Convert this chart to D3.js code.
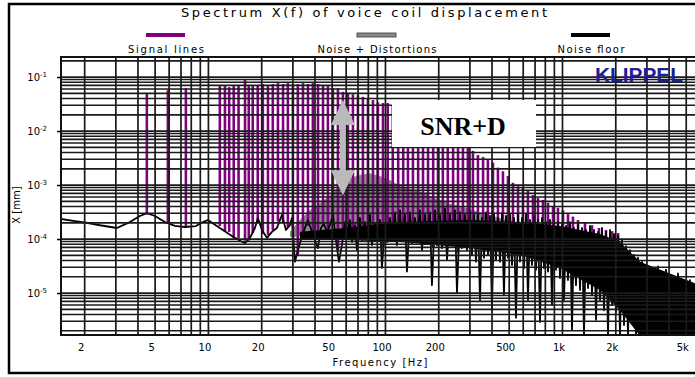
<!DOCTYPE html>
<html>
<head>
<meta charset="utf-8">
<script src="https://cdn.jsdelivr.net/npm/d3@7"></script>
<style>
  html, body { margin: 0; padding: 0; background: #fff; }
  svg { display: block; font-family: "DejaVu Sans", sans-serif; }
</style>
</head>
<body>
<div id="chart"></div>
<script>
// values: [frequency Hz, displacement mm]
const signalLines = [
  [4.49, 0.051], [5.9, 0.057], [7.46, 0.062],
  [11.6, 0.068], [12.4, 0.068], [13.1, 0.065], [13.9, 0.068], [14.8, 0.068], [16.1, 0.088],
  [16.9, 0.068], [17.8, 0.068], [19.0, 0.071], [20.3, 0.074], [21.7, 0.071], [23.1, 0.074],
  [24.7, 0.077], [26.4, 0.074], [28.1, 0.077], [30.0, 0.074], [32.0, 0.074], [34.2, 0.077],
  [36.5, 0.074], [38.9, 0.077], [41.6, 0.074], [44.4, 0.071], [47.3, 0.068], [50.5, 0.062],
  [53.9, 0.062], [57.5, 0.053], [61.4, 0.051], [65.5, 0.048], [69.9, 0.046], [74.6, 0.043],
  [79.6, 0.041], [85.0, 0.0375], [90.7, 0.034], [96.8, 0.033], [103, 0.033], [110, 0.030],
  [118, 0.028], [126, 0.0245], [134, 0.0225], [143, 0.0206], [153, 0.018], [163, 0.016],
  [174, 0.014], [186, 0.0124], [198, 0.0109], [211, 0.0096], [225, 0.0081], [241, 0.0071],
  [257, 0.0063], [274, 0.0055], [292, 0.0050], [312, 0.0043], [333, 0.0036], [356, 0.0033],
  [379, 0.0029], [405, 0.0026], [432, 0.0021], [461, 0.0018], [492, 0.00147], [525, 0.0011],
  [561, 0.00095], [598, 0.00088], [638, 0.00078], [681, 0.00065], [727, 0.00058], [776, 0.00053],
  [828, 0.00047], [884, 0.00041], [943, 0.00038], [1007, 0.00034], [1074, 0.00029], [1146, 0.00026],
  [1224, 0.000225], [1340, 0.0002], [1468, 0.00018], [1607, 0.00016], [1761, 0.000147],
  [1905, 0.00014], [2061, 0.000129]
];

const distortion = [
  [28.9, 1.36e-4], [32.9, 2.25e-4], [37.4, 3.4e-4], [42.7, 4.6e-4], [48.6, 6.5e-4], [55.3, 9.6e-4],
  [63.0, 1.35e-3], [71.7, 1.53e-3], [81.7, 1.66e-3], [93.1, 1.47e-3], [106, 1.24e-3], [121, 9.6e-4],
  [137.5, 8.4e-4], [157, 7.7e-4], [178, 6.3e-4], [203, 5.3e-4], [231, 4.5e-4], [264, 4.1e-4],
  [300, 3.6e-4], [342, 3.1e-4], [443, 2.45e-4], [575, 1.9e-4], [746, 1.47e-4], [968, 1.14e-4],
  [1177, 9.6e-5]
];
const distortionBase = 1.1e-4;

const noiseFloor = [
  [1.47, 2.35e-4], [1.76, 2.15e-4], [2.09, 1.98e-4], [2.44, 1.8e-4], [3.04, 1.6e-4], [3.60, 2.06e-4],
  [4.10, 2.67e-4], [4.49, 3.0e-4], [4.99, 2.67e-4], [5.68, 2.06e-4], [6.47, 1.75e-4], [7.36, 1.67e-4],
  [8.50, 1.74e-4], [9.31, 2.06e-4], [9.94, 2.25e-4], [10.74, 1.9e-4], [11.61, 1.6e-4], [13.58, 1.14e-4],
  [15.07, 9.3e-5], [16.08, 8.4e-5],
  [17.16, 1.05e-4], [18.31, 1.6e-4], [19.04, 2.45e-4], [20.06, 1.47e-4], [21.41, 1.05e-4], [22.85, 1.36e-4],
  [24.38, 1.6e-4], [26.02, 2.8e-4], [27.41, 1.47e-4], [28.87, 1.8e-4], [29.64, 2.45e-4], [30.82, 3.8e-5],
  [32.04, 6.25e-5], [33.31, 9.6e-5], [35.09, 1.6e-4], [36.48, 2.25e-4], [38.43, 1.36e-4], [39.96, 9.6e-5],
  [41.55, 6.8e-5], [43.20, 1.6e-4], [44.93, 1.9e-4], [46.71, 1.36e-4], [48.57, 1.8e-4], [50.50, 2.8e-4],
  [52.52, 9.6e-5], [54.61, 3.8e-5], [56.78, 7.7e-5],
  [59.04, 2.06e-4], [60.60, 1.05e-4], [63.02, 2.25e-4], [64.68, 8.8e-5], [67.25, 1.8e-4], [69.02, 6.25e-5],
  [71.76, 2.45e-4], [73.66, 9.6e-5], [76.59, 2.06e-4], [78.61, 1.14e-4], [81.73, 2.8e-4], [83.88, 7.7e-5],
  [87.23, 1.9e-4], [89.53, 9.6e-5], [93.09, 2.25e-4], [95.54, 2.9e-5], [99.36, 1.8e-4], [102.0, 8.8e-5],
  [106.0, 2.45e-4], [108.8, 1.05e-4], [113.1, 3.1e-4], [116.1, 7.7e-5], [120.8, 3.4e-4], [124.0, 9.6e-5],
  [128.9, 2.8e-4], [132.3, 2.5e-5], [137.5, 3.1e-4], [141.2, 8.4e-5], [146.8, 2.45e-4], [150.7, 9.6e-5],
  [156.6, 3.4e-4], [160.8, 6.25e-5], [167.2, 2.8e-4], [171.6, 9.6e-5], [178.4, 3.1e-4], [183.1, 1.4e-5],
  [190.4, 3.4e-4], [195.4, 7.7e-5], [203.2, 2.8e-4], [208.6, 6.8e-5], [216.9, 3.7e-4], [222.6, 4.1e-5],
  [231.4, 2.9e-4], [237.5, 7.7e-5], [247.0, 3.4e-4], [253.5, 1.0e-5], [263.6, 3.1e-4], [270.6, 6.8e-5],
  [281.3, 2.8e-4], [288.7, 6.25e-5], [300.2, 3.1e-4],
  [308.1, 5.1e-5], [316.2, 2.8e-4], [324.6, 3.8e-5], [333.1, 2.9e-4], [342.0, 7.4e-6], [351.0, 2.45e-4],
  [360.2, 4.5e-5], [369.7, 3.1e-4], [379.5, 5.1e-5], [389.4, 2.67e-4], [399.7, 4.8e-6], [410.2, 2.9e-4],
  [421.0, 4.1e-5], [432.1, 2.45e-4], [443.5, 3.8e-5], [455.2, 3.0e-4], [467.2, 9.2e-6], [479.5, 2.67e-4],
  [492.2, 4.5e-5], [505.1, 2.9e-4], [518.5, 3.3e-5], [532.1, 2.45e-4], [546.2, 3.5e-6], [560.6, 2.8e-4],
  [575.4, 3.8e-5], [590.5, 2.45e-4], [606.2, 2.9e-5], [622.1, 2.9e-4], [638.6, 7.4e-6], [655.4, 2.25e-4],
  [672.7, 3.3e-5], [690.2, 2.67e-4], [708.6, 2.7e-5], [727.2, 2.25e-4], [746.4, 2.9e-6], [766.1, 2.45e-4],
  [786.3, 2.9e-5], [807.1, 2.06e-4], [828.3, 2.5e-5], [850.3, 2.25e-4], [872.6, 6.0e-6], [895.3, 1.9e-4],
  [919.1, 2.7e-5], [943.2, 2.06e-4], [968.0, 1.9e-5],
  [993.6, 1.9e-4], [1020, 7.4e-6], [1047, 1.75e-4], [1074, 1.74e-5], [1103, 2.06e-4], [1132, 2.06e-6],
  [1161, 1.6e-4], [1192, 1.4e-5], [1224, 1.8e-4], [1256, 1.14e-5], [1289, 1.6e-4], [1323, 1.6e-6],
  [1358, 1.47e-4], [1394, 1.24e-5], [1431, 1.75e-4], [1468, 9.2e-6], [1507, 1.47e-4], [1547, 3.2e-6],
  [1588, 1.36e-4], [1629, 7.4e-6], [1672, 1.6e-4], [1716, 4.8e-6], [1762, 1.36e-4], [1808, 1.6e-6],
  [1855, 1.47e-4], [1905, 6.0e-6], [1954, 1.24e-4], [2006, 4.4e-6], [2059, 1.14e-4], [2113, 1.6e-6],
  [2169, 9.6e-5], [2226, 2.55e-6], [2285, 7.4e-5], [2345, 1.6e-6], [2407, 6.25e-5], [2470, 2.9e-6],
  [2535, 5.1e-5], [2602, 1.6e-6], [2671, 4.5e-5], [2741, 2.06e-6], [2813, 3.8e-5], [2887, 1.6e-6],
  [2964, 3.3e-5], [3042, 2.06e-6], [3122, 2.9e-5], [3204, 1.6e-6], [3289, 2.7e-5], [3375, 1.9e-6],
  [3464, 3.1e-5], [3555, 1.6e-6], [3649, 2.5e-5], [3745, 1.6e-6], [3843, 2.7e-5], [3945, 1.9e-6],
  [4049, 2.0e-5], [4155, 1.6e-6], [4265, 1.9e-5], [4377, 1.6e-6], [4492, 2.3e-5], [4610, 1.6e-6],
  [4732, 1.74e-5], [4857, 1.6e-6], [4984, 1.6e-5], [5117, 1.6e-6], [5252, 1.74e-5], [5390, 1.6e-6],
  [5532, 1.3e-5], [5678, 1.6e-6], [5828, 1.4e-5], [5981, 1.6e-6]
];

// dense part of the noise floor where the trace fills solid: [Hz, upper mm, lower mm]
const noiseBand = [
  [32.9, 1.36e-4, 9.6e-5], [59, 1.6e-4, 9.6e-5], [121, 2.06e-4, 8.8e-5], [300, 2.25e-4, 6.8e-5],
  [575, 2.06e-4, 5.1e-5], [968, 1.75e-4, 2.9e-5], [1629, 1.24e-4, 1.14e-5], [2113, 8.8e-5, 4.8e-6],
  [2741, 3.8e-5, 1.6e-6], [5981, 1.4e-5, 1.6e-6]
];

const xTicks = [2, 5, 10, 20, 50, 100, 200, 500, 1000, 2000, 5000];
const xTickLabels = ['2', '5', '10', '20', '50', '100', '200', '500', '1k', '2k', '5k'];
const yTicks = [1e-1, 1e-2, 1e-3, 1e-4, 1e-5];
const yTickExp = ['-1', '-2', '-3', '-4', '-5'];
const legendLabels = ['Signal lines', 'Noise + Distortions', 'Noise floor'];
const legendColors = ['#800080', '#8a8a8a', '#000'];
const titleText = 'Spectrum X(f) of voice coil displacement';
const snrArrow = { freq: 57.5, top: 0.0375, bottom: 6.5e-4 };

const W = 695, H = 377;
const plot = { left: 61, right: 700, top: 57, bottom: 335 };

const svg = d3.select('#chart').append('svg')
  .attr('width', W).attr('height', H);

const x = d3.scaleLog().domain([1.47, 5981]).range([plot.left, plot.right]);
const y = d3.scaleLog().domain([1.67e-6, 0.235]).range([plot.bottom, plot.top]);

svg.append('defs').append('clipPath').attr('id', 'plot-clip')
  .append('rect')
  .attr('x', plot.left).attr('y', plot.top)
  .attr('width', plot.right - plot.left).attr('height', plot.bottom - plot.top);

const marks = svg.append('g').attr('clip-path', 'url(#plot-clip)');

// noise + distortion band
marks.append('path')
  .datum(distortion)
  .attr('d', d3.area().x(d => x(d[0])).y0(y(distortionBase)).y1(d => y(d[1])))
  .attr('fill', '#8a8a8a');

// signal lines drop to the local noise level
const bis = d3.bisector(d => d[0]).left;
const baseAt = f => {
  const i = Math.max(1, Math.min(noiseFloor.length - 1, bis(noiseFloor, f)));
  return Math.sqrt(noiseFloor[i - 1][1] * noiseFloor[i][1]);
};
marks.append('g').selectAll('line')
  .data(signalLines)
  .join('line')
  .attr('x1', d => x(d[0])).attr('x2', d => x(d[0]))
  .attr('y1', d => y(d[1]))
  .attr('y2', d => y(baseAt(d[0])))
  .attr('stroke', '#800080')
  .attr('stroke-width', 2.6);

// noise floor
marks.append('path')
  .datum(noiseBand)
  .attr('d', d3.area().x(d => x(d[0])).y0(d => y(d[2])).y1(d => y(d[1])))
  .attr('fill', '#000');

marks.append('path')
  .datum(noiseFloor)
  .attr('d', d3.line().x(d => x(d[0])).y(d => y(d[1])))
  .attr('fill', 'none')
  .attr('stroke', '#000')
  .attr('stroke-width', 1.8)
  .attr('stroke-linejoin', 'round');

// log grid, drawn over the data like the original
const hGrid = [], vGrid = [];
for (let e = -6; e <= -1; e++)
  for (let k = 1; k <= 9; k++) {
    const v = k * Math.pow(10, e);
    if (v >= y.domain()[0] && v <= y.domain()[1]) hGrid.push(v);
  }
for (let e = 0; e <= 3; e++)
  for (let k = 1; k <= 9; k++) {
    const f = k * Math.pow(10, e);
    if (f > x.domain()[0] && f < x.domain()[1]) vGrid.push(f);
  }

const grid = svg.append('g').attr('stroke', '#1a1a1a').attr('stroke-width', 1.7);
grid.selectAll('.h').data(hGrid).join('line').attr('class', 'h')
  .attr('x1', plot.left).attr('x2', plot.right)
  .attr('y1', d => y(d)).attr('y2', d => y(d));
grid.selectAll('.v').data(vGrid).join('line').attr('class', 'v')
  .attr('x1', d => x(d)).attr('x2', d => x(d))
  .attr('y1', plot.top).attr('y2', plot.bottom);

svg.append('rect')
  .attr('x', plot.left).attr('y', plot.top)
  .attr('width', plot.right - plot.left).attr('height', plot.bottom - plot.top)
  .attr('fill', 'none').attr('stroke', '#111').attr('stroke-width', 2);

// axes
const xAxis = svg.append('g')
  .attr('transform', `translate(-4,${plot.bottom})`)
  .call(d3.axisBottom(x).tickValues(xTicks)
    .tickFormat((d, i) => xTickLabels[i]).tickSize(0).tickPadding(9));
xAxis.select('.domain').remove();
xAxis.selectAll('text').attr('font-size', 10).attr('fill', '#000')
  .attr('font-family', '"DejaVu Sans", sans-serif');

const yAxis = svg.append('g')
  .attr('transform', `translate(${plot.left},0)`)
  .call(d3.axisLeft(y).tickValues(yTicks).tickFormat('').tickSize(4).tickPadding(10));
yAxis.select('.domain').remove();
yAxis.selectAll('line').attr('stroke', '#000').attr('stroke-width', 1.5);
yAxis.selectAll('text')
  .attr('font-size', 10).attr('fill', '#000').attr('dy', '0.35em')
  .attr('font-family', '"DejaVu Sans", sans-serif')
  .text('10')
  .append('tspan')
  .attr('dy', -4).attr('font-size', 7)
  .text((d, i) => yTickExp[i]);

svg.append('text')
  .attr('transform', 'translate(20,205) rotate(-90)')
  .attr('text-anchor', 'middle').attr('font-size', 10)
  .text('X [mm]');

svg.append('text')
  .attr('x', 380).attr('y', 366)
  .attr('text-anchor', 'middle').attr('font-size', 10)
  .attr('textLength', 95).attr('lengthAdjust', 'spacing')
  .text('Frequency [Hz]');

// title and legend
svg.append('text')
  .attr('x', 364).attr('y', 17)
  .attr('text-anchor', 'middle').attr('font-size', 13)
  .attr('textLength', 366).attr('lengthAdjust', 'spacing')
  .text(titleText);

const legendX = [166, 377, 591];
const legendW = [76, 119, 67];
const legend = svg.append('g').selectAll('g')
  .data(legendLabels)
  .join('g')
  .attr('transform', (d, i) => `translate(${legendX[i]},0)`);
legend.append('rect')
  .attr('x', -20).attr('y', 33).attr('width', 39).attr('height', 4)
  .attr('fill', (d, i) => legendColors[i])
  .attr('stroke', (d, i) => i === 1 ? '#333' : 'none')
  .attr('stroke-width', 0.8);
legend.append('text')
  .attr('y', 53).attr('text-anchor', 'middle').attr('font-size', 10)
  .attr('textLength', (d, i) => legendW[i]).attr('lengthAdjust', 'spacing')
  .text(d => d);

// KLIPPEL logo
svg.append('text')
  .attr('x', 595).attr('y', 82)
  .attr('font-family', '"Liberation Sans", Arial, sans-serif')
  .attr('font-weight', 900).attr('font-size', 20)
  .attr('textLength', 88).attr('lengthAdjust', 'spacingAndGlyphs')
  .attr('fill', '#1e1e96')
  .text('KLIPPEL');

// SNR+D annotation
const ax = x(snrArrow.freq), at = y(snrArrow.top), ab = y(snrArrow.bottom);
const hl = 25, hw = 12, sw = 3;
svg.append('path')
  .attr('d', `M${ax},${at} L${ax + hw},${at + hl} L${ax + sw},${at + hl} L${ax + sw},${ab - hl}
    L${ax + hw},${ab - hl} L${ax},${ab} L${ax - hw},${ab - hl} L${ax - sw},${ab - hl}
    L${ax - sw},${at + hl} L${ax - hw},${at + hl} Z`)
  .attr('fill', '#bababa');

svg.append('rect')
  .attr('x', 392).attr('y', 100).attr('width', 144).attr('height', 47)
  .attr('fill', '#fff');
svg.append('text')
  .attr('x', 463).attr('y', 135)
  .attr('text-anchor', 'middle')
  .attr('font-family', '"Liberation Serif", "Times New Roman", serif')
  .attr('font-weight', 'bold').attr('font-size', 26)
  .text('SNR+D');

// outer frame
svg.append('rect')
  .attr('x', 9).attr('y', 4).attr('width', 700).attr('height', 369)
  .attr('fill', 'none').attr('stroke', '#000').attr('stroke-width', 2.5);
</script>
</body>
</html>
